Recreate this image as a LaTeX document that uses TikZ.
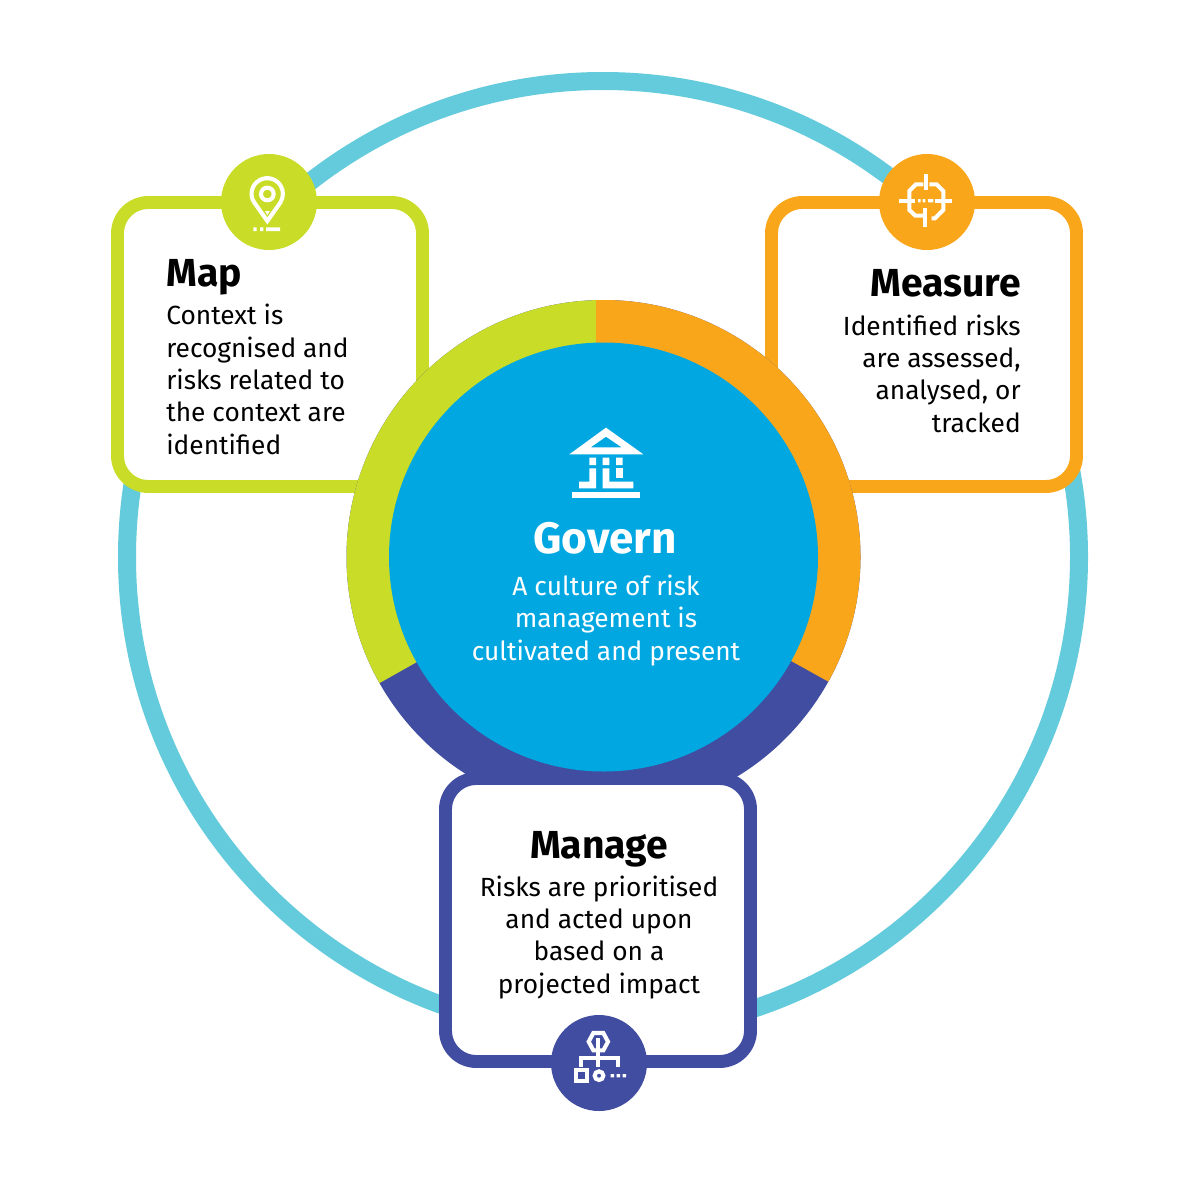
\documentclass[tikz,border=0pt]{standalone}
\usepackage{fontspec}
\setmainfont{Fira Sans}
\definecolor{cgreen}{HTML}{C9DC28}
\definecolor{corange}{HTML}{FAA61A}
\definecolor{cnavy}{HTML}{414DA0}
\definecolor{cblue}{HTML}{00A7E1}
\definecolor{cteal}{HTML}{63CBDB}
\tikzset{
  cardbox/.style={draw=#1,fill=white,line width=9.2pt,rounded corners=22pt},
  iconline/.style={draw=white,line width=2.9pt,line cap=butt,line join=miter},
  bodytext/.style={inner sep=0pt,font=\fontsize{18.7}{22.95}\selectfont},
  titletext/.style={inner sep=0pt,font=\fontsize{27.8}{32}\selectfont\bfseries},
}
\begin{document}
\begin{tikzpicture}[x=0.025cm,y=-0.025cm]
\useasboundingbox (0,0) rectangle (1200,1182);
\fill[white] (0,0) rectangle (1200,1182);
% outer ring
\draw[cteal,line width=12.8pt] (603,557) circle (476);
% map and measure cards
\draw[cardbox=cgreen] (117.5,202.5) rectangle (422.5,486.5);
\draw[cardbox=corange] (771.5,202.5) rectangle (1076.5,486.5);
% donut
\fill[cnavy] (603.5,557) circle (257);
\begin{scope}
\clip (596,200) -- (596,557) -- (603.5,557) -- (253.5,754) -- (100,754) -- (100,200) -- cycle;
\fill[cgreen] (603.5,557) circle (257);
\end{scope}
\begin{scope}
\clip (596,200) -- (596,557) -- (603.5,557) -- (953.5,751) -- (1100,751) -- (1100,200) -- cycle;
\fill[corange] (603.5,557) circle (257);
\end{scope}
\fill[cblue] (603.5,557) circle (214.5);
% manage card
\draw[cardbox=cnavy] (445.5,778.5) rectangle (750.5,1061.5);
% badges
\fill[cgreen] (269,202) circle (48);
\fill[corange] (927,202) circle (48);
\fill[cnavy] (599,1063) circle (48);
% map icon
\begin{scope}[shift={(210,145)},scale=1/3]
\draw[iconline] (131,170) arc[start angle=-150,end angle=-390,x radius=47,y radius=-47];
\draw[iconline] (131,170) -- (172,228) -- (213,170);
\draw[iconline] (172,147) circle (19);
\fill[white] (165,198) -- (180,198) -- (172,210) -- cycle;
\fill[white] (130,247) rectangle (140,258) (150,247) rectangle (160,258) (168,247) rectangle (210,258);
\end{scope}
% measure icon
\begin{scope}[shift={(870,145)},scale=1/3]
\draw[iconline] (160,118) -- (138,118) -- (118,138) -- (118,195) -- (136,212) -- (160,212);
\draw[iconline] (178,118) -- (200,118) -- (220,138) -- (220,195) -- (195,220) -- (185,220);
\draw[iconline] (167,88) -- (167,135);
\draw[iconline] (165,190) -- (165,245);
\draw[iconline] (88,167) -- (135,167);
\draw[iconline] (195,167) -- (247,167);
\fill[white] (144,162) rectangle (152,172) (158,162) rectangle (166,172) (174,162) rectangle (190,172);
\end{scope}
% manage icon
\begin{scope}[shift={(540,1005)},scale=1/3]
\draw[iconline] (146,110) -- (160,84) -- (190,84) -- (204,110) -- (190,136) -- (160,136) -- cycle;
\draw[iconline] (175,100) -- (175,185);
\draw[iconline] (122,185) -- (122,160) -- (235,160) -- (235,185);
\draw[iconline] (108,196) rectangle (141,229);
\draw[iconline] (177,212) circle (13);
\fill[white] (212,207) rectangle (222,217) (230,207) rectangle (240,217) (248,207) rectangle (258,217);
\end{scope}
% govern icon
\begin{scope}[shift={(550,415)},scale=1/3]
\fill[white,even odd rule] (168,38) -- (280,118) -- (58,118) -- cycle (168,65) -- (122,97) -- (215,97) -- cycle;
\fill[white] (118,128) rectangle (138,150) (158,128) rectangle (178,150) (198,128) rectangle (218,150);
\fill[white] (118,160) -- (138,160) -- (138,220) -- (87,220) -- (87,200) -- (118,200) -- cycle;
\fill[white] (158,160) -- (178,160) -- (178,200) -- (250,200) -- (250,220) -- (158,220) -- cycle;
\fill[white] (198,160) rectangle (218,190);
\fill[white] (67,232) rectangle (270,250);
\end{scope}
% texts
\node[titletext,anchor=base west] (maptitle) at (166,286) {Map};
\node[bodytext,anchor=base west,align=left] (mapbody) at (166,454) {Context is\\recognised and\\risks related to\\the context are\\identified};
\node[titletext,anchor=base east] (meastitle) at (1021,296) {Measure};
\node[bodytext,anchor=base east,align=right] (measbody) at (1021,432) {Identified risks\\are assessed,\\analysed, or\\tracked};
\node[titletext,anchor=base] (mantitle) at (599,858) {Manage};
\node[bodytext,anchor=base,align=center] (manbody) at (599,993) {Risks are prioritised\\and acted upon\\based on a\\projected impact};
\node[titletext,anchor=base,white,font=\fontsize{31.3}{36}\selectfont\bfseries] (govtitle) at (605,553) {Govern};
\node[bodytext,anchor=base,align=center,white] (govbody) at (606,660) {A culture of risk\\management is\\cultivated and present};
\end{tikzpicture}
\end{document}
